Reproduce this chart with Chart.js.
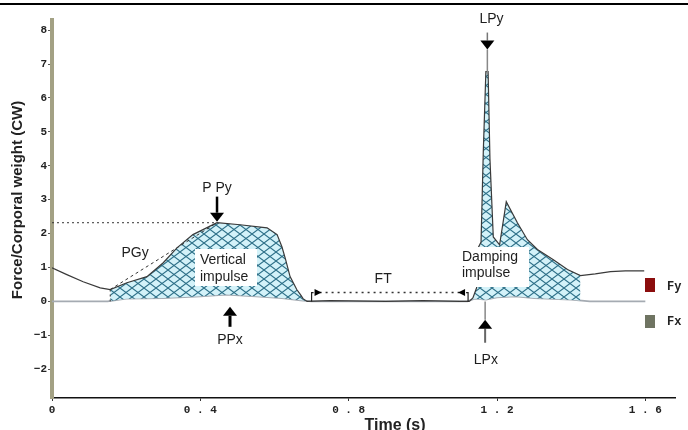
<!DOCTYPE html>
<html>
<head>
<meta charset="utf-8">
<script src="https://cdn.jsdelivr.net/npm/chart.js@4/dist/chart.umd.min.js"></script>
<style>
  html, body { margin: 0; padding: 0; background: #fff; overflow: hidden; }
  canvas { display: block; }
</style>
</head>
<body>
<canvas id="chart" width="688" height="430"></canvas>
<script>
// vertical force Fy (time s, force in body weights)
const fyTime  = [0, 0.04, 0.084, 0.13, 0.157, 0.202, 0.256, 0.30, 0.337, 0.38, 0.445, 0.507, 0.58, 0.607, 0.62, 0.63, 0.642, 0.66, 0.67, 0.677, 0.688, 0.75, 0.9, 1.0, 1.1, 1.125, 1.135, 1.145, 1.15, 1.157, 1.163, 1.17, 1.176, 1.181, 1.19, 1.207, 1.225, 1.255, 1.282, 1.309, 1.352, 1.39, 1.425, 1.465, 1.506, 1.546, 1.597];
const fyForce = [0.99, 0.79, 0.58, 0.40, 0.35, 0.55, 0.73, 1.14, 1.58, 1.97, 2.32, 2.26, 2.17, 1.97, 1.61, 1.23, 0.73, 0.35, 0.20, 0.08, 0, 0.02, 0, 0.02, 0, 0, 0.10, 0.40, 1.60, 1.75, 4.40, 6.78, 6.78, 4.20, 1.90, 1.67, 2.94, 2.32, 1.82, 1.53, 1.23, 0.94, 0.76, 0.81, 0.88, 0.90, 0.90];

// horizontal force Fx
const fxTime  = [0, 0.15, 0.2, 0.3, 0.4, 0.47, 0.55, 0.62, 0.67, 0.7, 1.12, 1.14, 1.17, 1.2, 1.25, 1.3, 1.4, 1.45, 1.6];
const fxForce = [0, 0, 0.08, 0.10, 0.15, 0.20, 0.15, 0.10, 0.03, 0, 0, 0.08, 0.05, 0.12, 0.15, 0.10, 0.05, 0, 0];

// hatched impulse windows (s)
const verticalImpulse = [0.157, 0.688];
const dampingImpulse = [1.125, 1.425];

const xTicks = [0, 0.4, 0.8, 1.2, 1.6];
const yTicks = [-2, -1, 0, 1, 2, 3, 4, 5, 6, 7, 8];

const fyPts = fyTime.map((t, i) => ({ x: t, y: fyForce[i] }));
const fxPts = fxTime.map((t, i) => ({ x: t, y: fxForce[i] }));
const inRange = (r) => fyPts.filter(p => p.x >= r[0] && p.x <= r[1]);

// cross hatch pattern
const ctxMain = document.getElementById('chart').getContext('2d');
function makeHatch() {
    const w = 12, h = 9;
    const c = document.createElement('canvas');
    c.width = w; c.height = h;
    const g = c.getContext('2d');
    g.fillStyle = '#d3f2f9';
    g.fillRect(0, 0, w, h);
    g.strokeStyle = '#2f7189';
    g.lineWidth = 1.1;
    g.beginPath();
    g.moveTo(0, 0); g.lineTo(w, h);
    g.moveTo(w, 0); g.lineTo(0, h);
    g.stroke();
    return ctxMain.createPattern(c, 'repeat');
}
const hatch = makeHatch();

const FONT = '"Liberation Sans", Arial, sans-serif';

function arrow(ctx, x, tipY, tailY, shaftColor, shaftW) {
    const dir = tailY < tipY ? 1 : -1; // 1 = pointing down
    const headH = 9, headW = 14;
    ctx.strokeStyle = shaftColor;
    ctx.lineWidth = shaftW;
    ctx.beginPath();
    ctx.moveTo(x, tailY);
    ctx.lineTo(x, tipY - dir * headH);
    ctx.stroke();
    ctx.fillStyle = '#000';
    ctx.beginPath();
    ctx.moveTo(x, tipY);
    ctx.lineTo(x - headW / 2, tipY - dir * headH);
    ctx.lineTo(x + headW / 2, tipY - dir * headH);
    ctx.closePath();
    ctx.fill();
}

const notes = {
    id: 'notes',
    afterDatasetsDraw(chart) {
        const { ctx, scales: { x, y } } = chart;
        const px = v => x.getPixelForValue(v);
        const py = v => y.getPixelForValue(v);
        ctx.save();

        // peak level and PGy slope
        ctx.strokeStyle = '#333';
        ctx.lineWidth = 1;
        ctx.setLineDash([2, 3]);
        ctx.beginPath();
        ctx.moveTo(px(0), py(2.32)); ctx.lineTo(px(0.445), py(2.32));
        ctx.moveTo(px(0.157), py(0.35)); ctx.lineTo(px(0.157), py(0));
        ctx.stroke();
        ctx.setLineDash([3, 3]);
        ctx.beginPath();
        ctx.moveTo(px(0.157), py(0.35)); ctx.lineTo(px(0.445), py(2.32));
        ctx.stroke();

        // FT dimension line
        const ftY = py(0.26);
        ctx.setLineDash([2, 4]);
        ctx.lineWidth = 1.5;
        ctx.beginPath();
        ctx.moveTo(px(0.70) + 8, ftY); ctx.lineTo(px(1.122) - 8, ftY);
        ctx.stroke();
        ctx.setLineDash([]);
        ctx.lineWidth = 1.2;
        ctx.strokeStyle = '#222';
        ctx.beginPath();
        ctx.moveTo(px(0.70), py(0)); ctx.lineTo(px(0.70), ftY); ctx.lineTo(px(0.70) + 2, ftY);
        ctx.moveTo(px(1.122), py(0)); ctx.lineTo(px(1.122), ftY); ctx.lineTo(px(1.122) - 2, ftY);
        ctx.stroke();
        ctx.fillStyle = '#000';
        ctx.beginPath();
        ctx.moveTo(px(0.70) + 10, ftY); ctx.lineTo(px(0.70) + 3, ftY - 3.5); ctx.lineTo(px(0.70) + 3, ftY + 3.5);
        ctx.closePath(); ctx.fill();
        ctx.beginPath();
        ctx.moveTo(px(1.122) - 10, ftY); ctx.lineTo(px(1.122) - 3, ftY - 3.5); ctx.lineTo(px(1.122) - 3, ftY + 3.5);
        ctx.closePath(); ctx.fill();

        // label boxes
        ctx.fillStyle = '#fff';
        ctx.fillRect(195, 249, 62, 37);
        ctx.fillRect(458, 247, 71, 40);

        ctx.fillStyle = '#1e1e1e';
        ctx.font = '14px ' + FONT;
        ctx.textBaseline = 'middle';
        ctx.textAlign = 'left';
        ctx.fillText('Vertical', 200, 260);
        ctx.fillText('impulse', 200, 277);
        ctx.fillText('Damping', 462, 257);
        ctx.fillText('impulse', 462, 273);
        ctx.textAlign = 'center';
        ctx.fillText('PGy', px(0.224), py(1.43));
        ctx.fillText('FT', px(0.893), py(0.66));
        ctx.fillText('P Py', px(0.445), py(3.35));
        ctx.fillText('PPx', px(0.48), py(-1.15));
        ctx.fillText('LPy', px(1.185), 19);
        ctx.fillText('LPx', px(1.17), py(-1.72));

        // arrows
        arrow(ctx, px(0.445), py(2.35), py(3.09), '#000', 2.5);
        arrow(ctx, px(0.48), py(-0.16), py(-0.75), '#000', 3);
        ctx.strokeStyle = '#888';
        ctx.lineWidth = 1.5;
        ctx.beginPath();
        ctx.moveTo(px(1.174), py(7.43)); ctx.lineTo(px(1.174), py(6.7));
        ctx.moveTo(px(1.168), py(0)); ctx.lineTo(px(1.168), py(-0.54));
        ctx.stroke();
        arrow(ctx, px(1.174), py(7.43), py(7.93), '#777', 1.5);
        arrow(ctx, px(1.168), py(-0.54), py(-1.22), '#666', 2);

        // legend
        ctx.fillStyle = '#8b0d0d';
        ctx.fillRect(645, 278, 10, 14);
        ctx.fillStyle = '#6f7462';
        ctx.fillRect(645, 315, 10, 13);
        ctx.fillStyle = '#222';
        ctx.textAlign = 'left';
        ctx.font = 'bold 12px "Liberation Mono", monospace';
        ctx.fillText('Fy', 667, 287);
        ctx.fillText('Fx', 667, 322);

        // axis titles
        ctx.font = 'bold 16px ' + FONT;
        ctx.textAlign = 'center';
        ctx.fillText('Time (s)', 395, 426);
        ctx.font = 'bold 15px ' + FONT;
        ctx.translate(18, 200);
        ctx.rotate(-Math.PI / 2);
        ctx.fillText('Force/Corporal weight (CW)', 0, 0);
        ctx.setTransform(1, 0, 0, 1, 0, 0);

        // frame line at top
        ctx.fillStyle = '#000';
        ctx.fillRect(0, 3, 688, 2);
        ctx.restore();
    }
};

const tickFont = { family: '"Liberation Mono", monospace', weight: 'bold', size: 11 };

new Chart(ctxMain, {
    type: 'line',
    data: {
        datasets: [
            { label: 'Fy', data: fyPts, borderColor: '#3a3a3a', borderWidth: 1.2, pointRadius: 0, fill: false, order: 0 },
            { label: 'Fx', data: fxPts, borderColor: '#a5abb2', borderWidth: 1.8, pointRadius: 0, fill: false, order: 2 },
            { label: 'Vertical impulse', data: inRange(verticalImpulse), borderWidth: 0, pointRadius: 0, backgroundColor: hatch, fill: 1, order: 1 },
            { label: 'Damping impulse', data: inRange(dampingImpulse), borderWidth: 0, pointRadius: 0, backgroundColor: hatch, fill: 1, order: 1 }
        ]
    },
    options: {
        responsive: false,
        animation: false,
        events: [],
        layout: { padding: { top: 20, right: 13, left: 0, bottom: 0 } },
        plugins: { legend: { display: false }, tooltip: { enabled: false } },
        scales: {
            x: {
                type: 'linear', min: 0, max: 1.68,
                afterFit(s) { s.height = 32; },
                afterBuildTicks(s) { s.ticks = xTicks.map(v => ({ value: v })); },
                grid: { drawOnChartArea: false, tickLength: 3, color: '#333' },
                border: { color: '#111', width: 1.5 },
                ticks: { font: tickFont, color: '#222', padding: 3, maxRotation: 0, callback: v => String(v).split('').join(' ') }
            },
            y: {
                min: -2.85, max: 8.3,
                afterFit(s) { s.width = 52; },
                afterBuildTicks(s) { s.ticks = yTicks.map(v => ({ value: v })); },
                grid: { drawOnChartArea: false, tickLength: 4, color: '#555' },
                border: { color: '#a3a184', width: 4 },
                ticks: { font: tickFont, color: '#222', padding: 1, callback: v => v < 0 ? '\u2212' + Math.abs(v) : String(v) }
            }
        }
    },
    plugins: [notes]
});
</script>
</body>
</html>
